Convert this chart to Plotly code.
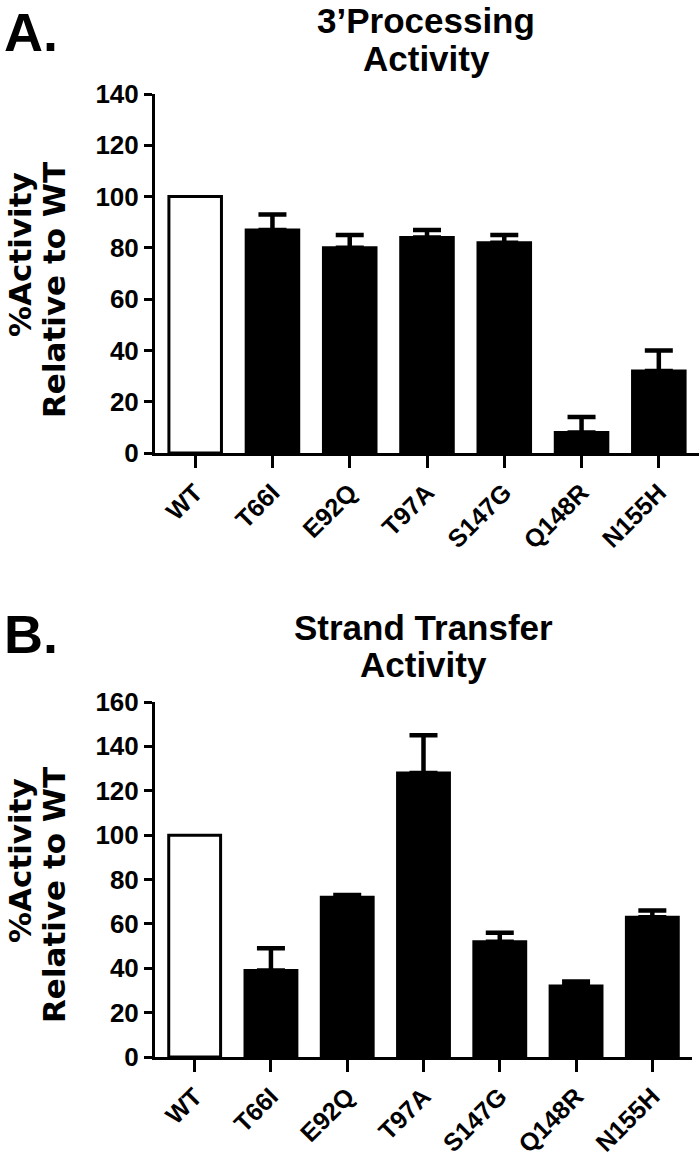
import plotly.graph_objects as go

categories = ["WT", "T66I", "E92Q", "T97A", "S147G", "Q148R", "N155H"]
proc_mean = [100, 87, 80, 84, 82, 8, 32]
proc_err = [0, 6, 5, 3, 3, 6, 8]
st_mean = [100, 39, 72, 128, 52, 32, 63]
st_err = [0, 10, 1, 17, 4, 2, 3]

H = 1161.0
W = 700.0
FONT = "Liberation Sans"
WIDE = "DejaVu Sans"

fig = go.Figure()

def add_panel(means, errs, xa, ya):
    fig.add_trace(go.Bar(
        x=categories[:1], y=means[:1], xaxis=xa, yaxis=ya, width=0.68,
        marker=dict(color="white", line=dict(color="black", width=3)),
        showlegend=False, hoverinfo="skip"))
    fig.add_trace(go.Bar(
        x=categories[1:], y=means[1:], xaxis=xa, yaxis=ya, width=0.68,
        marker=dict(color="black", line=dict(color="black", width=3)),
        error_y=dict(type="data", symmetric=False, array=errs[1:],
                     arrayminus=[0] * (len(errs) - 1), color="black",
                     thickness=4.5, width=14),
        showlegend=False, hoverinfo="skip"))

add_panel(proc_mean, proc_err, "x", "y")
add_panel(st_mean, st_err, "x2", "y2")

ytickfont = dict(family=FONT, size=26, color="black", weight="bold")
xtickfont = dict(family=FONT, size=25, color="black", weight="bold")

def xaxis(domain, anchor):
    return dict(domain=domain, range=[-0.52, 6.52], type="category",
                categoryorder="array", categoryarray=categories, anchor=anchor,
                showline=True, linecolor="black", linewidth=3,
                ticks="outside", ticklen=12, tickwidth=3, tickcolor="black",
                tickangle=-45, tickfont=xtickfont, showgrid=False, zeroline=False)

def yaxis(domain, rmax, anchor):
    return dict(domain=domain, range=[0, rmax], dtick=20, anchor=anchor,
                showline=True, linecolor="black", linewidth=3,
                ticks="outside", ticklen=8, tickwidth=3, tickcolor="black",
                tickfont=ytickfont, showgrid=False, zeroline=False)

fig.update_layout(
    width=700, height=1161,
    margin=dict(l=0, r=0, t=0, b=0, autoexpand=False),
    paper_bgcolor="white", plot_bgcolor="white",
    barmode="overlay",
    xaxis=xaxis([155 / W, 699 / W], "y"),
    yaxis=yaxis([1 - 453 / H, 1 - 94 / H], 140, "x"),
    xaxis2=xaxis([155 / W, 692 / W], "y2"),
    yaxis2=yaxis([1 - 1057 / H, 1 - 702 / H], 160, "x2"),
)

def ann(text, x, y, size, family, angle=0, xanchor="center", yanchor="middle"):
    fig.add_annotation(text=text, x=x, y=y, xref="paper", yref="paper",
                       showarrow=False, textangle=angle, xanchor=xanchor,
                       yanchor=yanchor,
                       font=dict(family=family, size=size, color="black", weight="bold"))

# Panel letters
ann("A.", 2 / W, 1.0, 54, FONT, xanchor="left", yanchor="top")
ann("B.", 2 / W, 1 - 602 / H, 54, FONT, xanchor="left", yanchor="top")
# Panel titles (one annotation per line for tight line spacing)
ann("3\u2019Processing", 426 / W, 1 - 21 / H, 35, FONT)
ann("Activity", 426 / W, 1 - 58 / H, 35, FONT)
ann("Strand Transfer", 423 / W, 1 - 627 / H, 35, FONT)
ann("Activity", 423 / W, 1 - 664 / H, 35, FONT)
# Y axis titles
ann("%Activity", 20 / W, 1 - 255 / H, 31, WIDE, angle=-90)
ann("Relative to WT", 54 / W, 1 - 290 / H, 31, WIDE, angle=-90)
ann("%Activity", 20 / W, 1 - 861 / H, 31, WIDE, angle=-90)
ann("Relative to WT", 54 / W, 1 - 895 / H, 31, WIDE, angle=-90)

fig.write_html("out.html", config={"displayModeBar": False},
               post_script="document.body.style.margin='0';")
